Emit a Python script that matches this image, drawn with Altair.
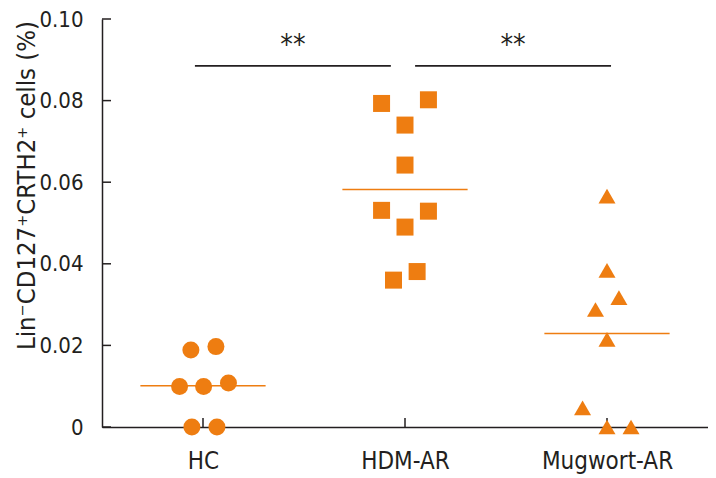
import altair as alt
import pandas as pd

# ---- data ----
groups = ["HC", "HDM-AR", "Mugwort-AR"]
group_pos = [0.5, 1.5, 2.5]
shapes = ["circle", "square", "triangle-up"]

hc_vals = [0.0189, 0.0197, 0.0099, 0.0099, 0.0108, 0.0, 0.0]
hc_jit = [-0.06, 0.064, -0.116, 0.003, 0.126, -0.055, 0.069]

hdm_vals = [0.0793, 0.0802, 0.0740, 0.0642, 0.0531, 0.0529, 0.0490, 0.0360, 0.0381]
hdm_jit = [-0.116, 0.116, 0.0, 0.0, -0.116, 0.116, 0.0, -0.057, 0.06]

mug_vals = [0.0566, 0.0384, 0.0317, 0.0288, 0.0215, 0.0047, 0.0, 0.0]
mug_jit = [0.0, 0.0, 0.059, -0.057, 0.0, -0.121, 0.0, 0.119]

means = [0.0101, 0.0582, 0.0229]
mean_half = 0.31

y_ticks = [0.0, 0.02, 0.04, 0.06, 0.08, 0.10]

brk_start = [0.46, 1.55]
brk_end = [1.43, 2.52]
brk_y = [0.0885, 0.0885]
brk_label = ["**", "**"]
brk_label_y = [0.0935, 0.0935]

ORANGE = "#EE7D11"
FONT = "'DejaVu Sans Condensed', sans-serif"

rows = []
for g, p, vals, jit in zip(groups, group_pos, [hc_vals, hdm_vals, mug_vals], [hc_jit, hdm_jit, mug_jit]):
    for v, j in zip(vals, jit):
        rows.append({"group": g, "x": p + j, "y": v})
pts = pd.DataFrame(rows)

mean_df = pd.DataFrame({
    "group": groups,
    "x1": [p - mean_half for p in group_pos],
    "x2": [p + mean_half for p in group_pos],
    "y": means,
})

brk_df = pd.DataFrame({
    "x1": brk_start, "x2": brk_end, "y": brk_y,
    "xm": [(a + b) / 2 for a, b in zip(brk_start, brk_end)],
    "ly": brk_label_y, "label": brk_label,
})

ytick_df = pd.DataFrame({"v": y_ticks})
xtick_df = pd.DataFrame({"pos": group_pos})

W, H = 606, 408

xscale = alt.Scale(domain=[0, 3], nice=False, zero=False)
yscale = alt.Scale(domain=[0, 0.1], nice=False)

label_expr = "datum.value < 1 ? 'HC' : (datum.value < 2 ? 'HDM-AR' : 'Mugwort-AR')"

x_axis = alt.Axis(values=group_pos, labelExpr=label_expr, ticks=False, grid=False,
                  domainColor="#231f20", domainWidth=1.5, labelFontSize=24,
                  labelFont=FONT, labelColor="#231f20", labelPadding=22, title=None)
y_axis = alt.Axis(values=y_ticks,
                  labelExpr="datum.value == 0 ? '0' : format(datum.value, '.2f')",
                  ticks=False, grid=False, domainColor="#231f20", domainWidth=1.5,
                  labelFontSize=22, labelFont=FONT, labelColor="#231f20", labelPadding=19,
                  title="Lin⁻CD127⁺CRTH2⁺ cells (%)", titleFont=FONT, titleFontSize=25.5,
                  titleFontWeight="normal", titleColor="#231f20",
                  titleX=-76, titleY=166, titleBaseline="middle", titleAlign="center")

points = alt.Chart(pts).mark_point(filled=True, opacity=1, size=289, color=ORANGE).encode(
    x=alt.X("x:Q", scale=xscale, axis=x_axis),
    y=alt.Y("y:Q", scale=yscale, axis=y_axis),
    shape=alt.Shape("group:N", scale=alt.Scale(domain=groups, range=shapes), legend=None),
)

mean_lines = alt.Chart(mean_df).mark_rule(color=ORANGE, strokeWidth=1.6).encode(
    x=alt.X("x1:Q", scale=xscale), x2="x2:Q", y=alt.Y("y:Q", scale=yscale)
)

brackets = alt.Chart(brk_df).mark_rule(color="#231f20", strokeWidth=1.6).encode(
    x=alt.X("x1:Q", scale=xscale), x2="x2:Q", y=alt.Y("y:Q", scale=yscale)
)

stars = alt.Chart(brk_df).mark_text(font=FONT, fontSize=28, color="#231f20",
                                     baseline="middle", align="center").encode(
    x=alt.X("xm:Q", scale=xscale), y=alt.Y("ly:Q", scale=yscale), text="label:N"
)

yticks = alt.Chart(ytick_df).mark_rule(color="#231f20", strokeWidth=1.5).encode(
    y=alt.Y("v:Q", scale=yscale), x=alt.value(0), x2=alt.value(9)
)

xticks = alt.Chart(xtick_df).mark_rule(color="#231f20", strokeWidth=1.5).encode(
    x=alt.X("pos:Q", scale=xscale), y=alt.value(H), y2=alt.value(H - 9)
)

chart = alt.layer(yticks, xticks, brackets, stars, mean_lines, points).properties(
    width=W, height=H,
    padding={"left": 94, "top": 11, "right": 0, "bottom": 51},
    autosize=alt.AutoSizeParams(type="none"),
).configure_view(stroke=None)

chart.save("out.html", embed_options={"renderer": "svg", "actions": False})
